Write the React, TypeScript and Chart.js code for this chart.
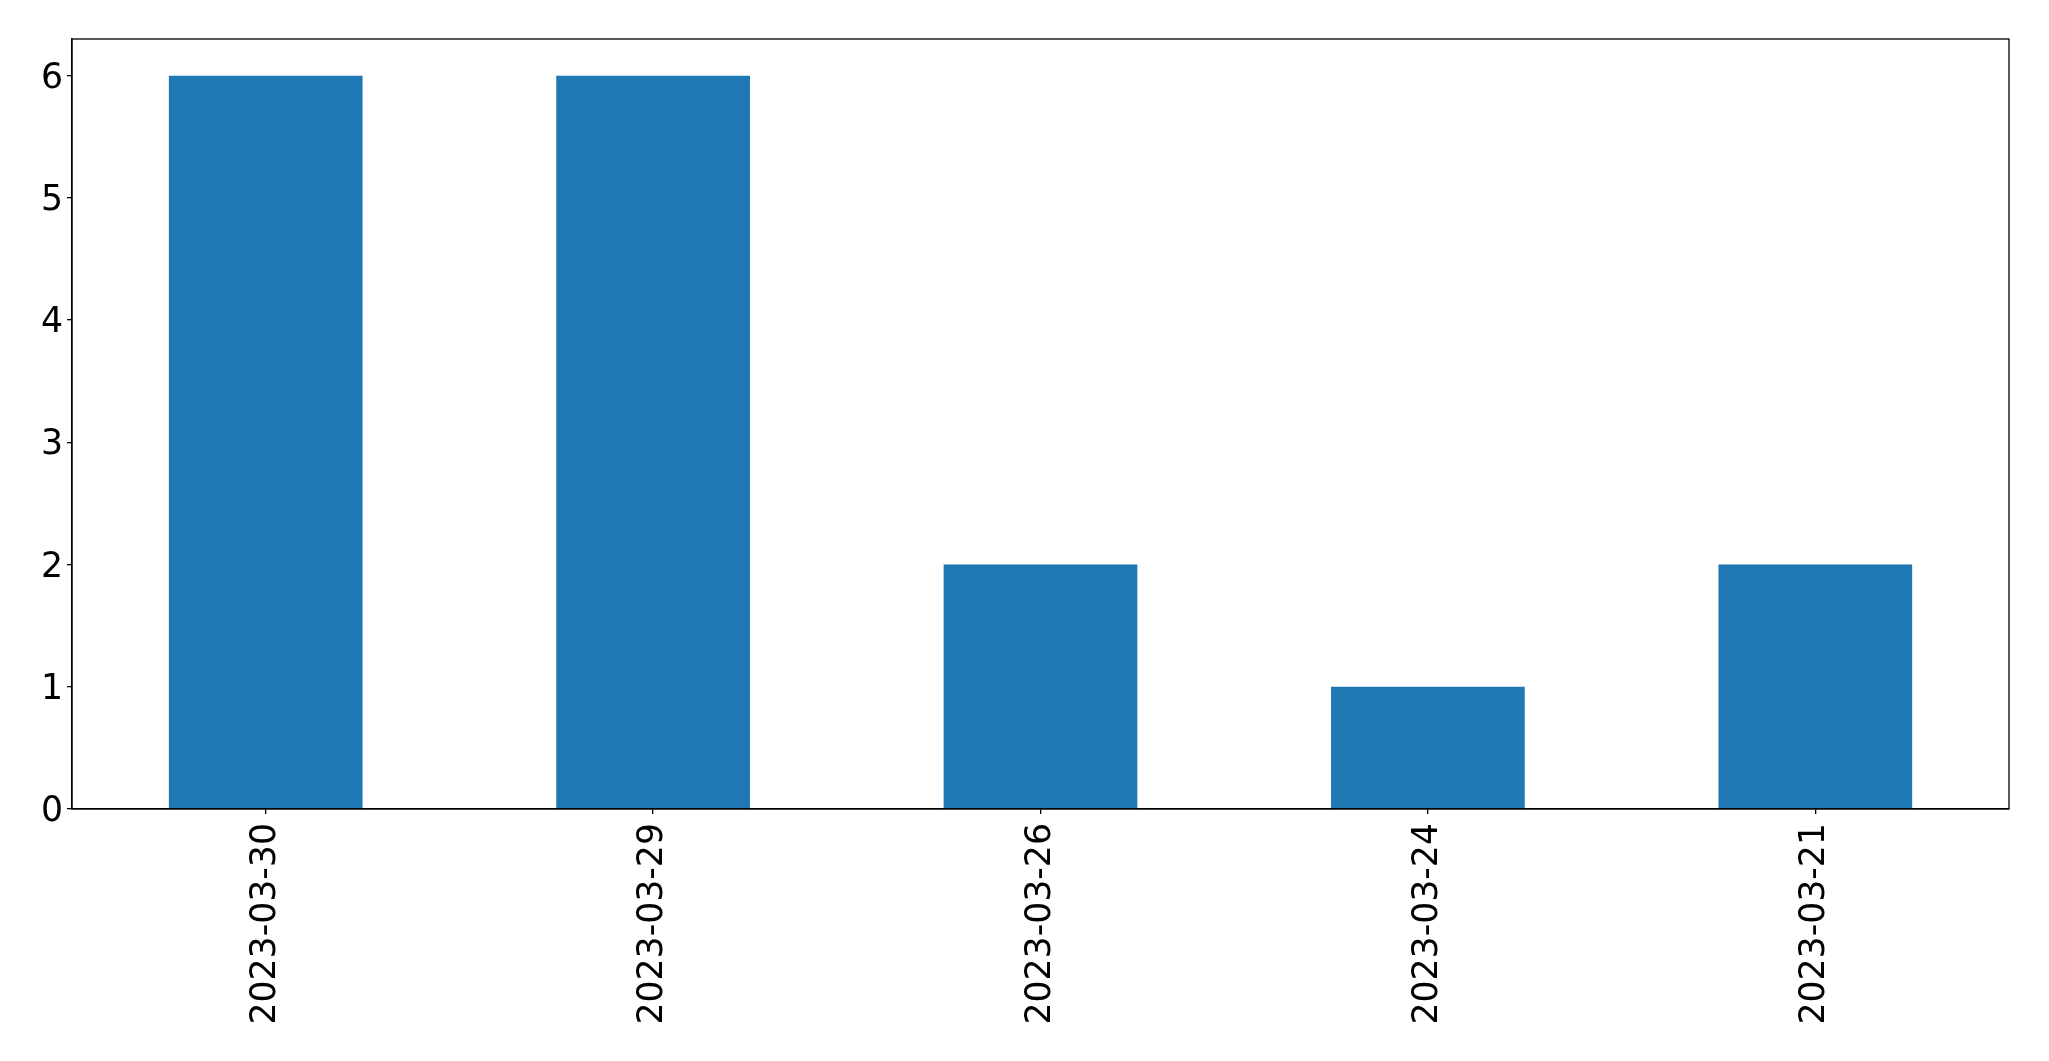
import React, { useEffect, useRef } from "react";
import { Chart, registerables } from "chart.js";

Chart.register(...registerables);

const categories = ["2023-03-30", "2023-03-29", "2023-03-26", "2023-03-24", "2023-03-21"];
const values = [6, 6, 2, 1, 2];
const yTicks = [0, 1, 2, 3, 4, 5, 6];

const W = 2049;
const H = 1061;

const frame = {
  id: "frame",
  afterDraw(chart: any) {
    const { ctx, chartArea } = chart;
    ctx.save();
    ctx.strokeStyle = "#000";
    ctx.lineWidth = 1.3;
    ctx.strokeRect(chartArea.left, chartArea.top, chartArea.right - chartArea.left, chartArea.bottom - chartArea.top);
    ctx.restore();
  },
};

export default function App() {
  const ref = useRef<HTMLCanvasElement | null>(null);
  useEffect(() => {
    if (!ref.current) return;
    const chart = new Chart(ref.current, {
      type: "bar",
      data: {
        labels: categories,
        datasets: [
          {
            data: values,
            backgroundColor: "#1f77b4",
            categoryPercentage: 1,
            barPercentage: 0.5,
          },
        ],
      },
      options: {
        animation: false,
        responsive: false,
        maintainAspectRatio: false,
        layout: { padding: { top: 39, right: 40, left: 0, bottom: 0 } },
        plugins: { legend: { display: false }, tooltip: { enabled: false } },
        scales: {
          x: {
            grid: { display: true, offset: false, drawOnChartArea: false, drawTicks: true, tickLength: 5, color: "#000", lineWidth: 1.3 },
            border: { display: true, color: "#000", width: 1.3 },
            ticks: {
              color: "#000",
              font: { family: "DejaVu Sans", size: 34.7 },
              minRotation: 90,
              maxRotation: 90,
              padding: 9,
              autoSkip: false,
            },
            afterFit(scale: any) {
              scale.height = 252;
            },
          },
          y: {
            min: 0,
            max: 6.3,
            grid: { display: true, drawOnChartArea: false, drawTicks: true, tickLength: 5, color: "#000", lineWidth: 1.3 },
            border: { display: true, color: "#000", width: 1.3 },
            afterBuildTicks(scale: any) {
              scale.ticks = yTicks.map((v) => ({ value: v }));
            },
            ticks: {
              color: "#000",
              font: { family: "DejaVu Sans", size: 34.7 },
              padding: 4,
              labelOffset: 3,
            },
            afterFit(scale: any) {
              scale.width = 72;
            },
          },
        },
      },
      plugins: [frame],
    });
    return () => chart.destroy();
  }, []);
  return (
    <div style={{ position: "fixed", left: 0, top: 0, width: W, height: H, background: "#fff" }}>
      <canvas ref={ref} width={W} height={H} style={{ width: W, height: H, display: "block" }} />
    </div>
  );
}
